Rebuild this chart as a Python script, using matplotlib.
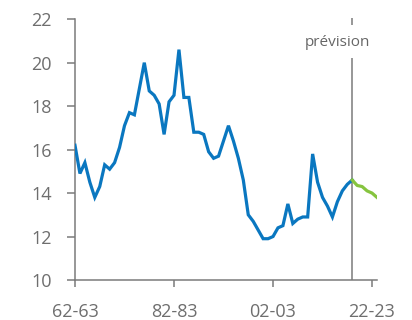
import matplotlib
matplotlib.use("Agg")
import matplotlib.pyplot as plt

# ── Data ──────────────────────────────────────────────────────────────────────
# one value per fiscal year, starting 1962-63
hist_values = [
    16.2, 14.9, 15.4, 14.5, 13.8, 14.3, 15.3, 15.1, 15.4, 16.1,
    17.1, 17.7, 17.6, 18.8, 20.0, 18.7, 18.5, 18.1, 16.7, 18.2,
    18.5, 20.6, 18.4, 18.4, 16.8, 16.8, 16.7, 15.9, 15.6, 15.7,
    16.4, 17.1, 16.4, 15.6, 14.6, 13.0, 12.7, 12.3, 11.9, 11.9,
    12.0, 12.4, 12.5, 13.5, 12.6, 12.8, 12.9, 12.9, 15.8, 14.5,
    13.8, 13.4, 12.9, 13.6, 14.1, 14.4, 14.6,
]
forecast_values = [14.6, 14.35, 14.3, 14.1, 14.0, 13.8]

tick_pos    = [0, 20, 40, 60]
tick_labels = ["62-63", "82-83", "02-03", "22-23"]
y_ticks     = [10, 12, 14, 16, 18, 20, 22]
forecast_label = "prévision"

BLUE  = "#0A77C0"
GREEN = "#86C43F"
GREY  = "#7A7A7A"

plt.rcParams["font.family"] = ["Open Sans", "DejaVu Sans"]

hist_x = list(range(len(hist_values)))
fc_start = len(hist_values) - 1
fc_x = list(range(fc_start, fc_start + len(forecast_values)))

fig = plt.figure(figsize=(4.12, 3.2), dpi=100)
ax = fig.add_axes([0.182, 0.125, 0.733, 0.815])

ax.plot(hist_x, hist_values, color=BLUE, lw=2.3, solid_joinstyle="miter", zorder=3)
ax.plot(fc_x, forecast_values, color=GREEN, lw=2.3, zorder=3)

# forecast divider, broken around its label
ax.vlines(fc_start, 10, 20.2, color=GREY, lw=1.1, zorder=2, clip_on=False)
ax.vlines(fc_start, 21.72, 22.05, color=GREY, lw=1.1, zorder=2, clip_on=False)
ax.text(fc_start - 2.9, 20.95, forecast_label, ha="center", va="center",
        fontsize=11, color="#666666")

ax.set_xlim(0, 61)
ax.set_ylim(10, 22)
ax.set_xticks(tick_pos)
ax.set_xticklabels(tick_labels)
ax.set_yticks(y_ticks)

for side in ("top", "right"):
    ax.spines[side].set_visible(False)
for side in ("left", "bottom"):
    ax.spines[side].set_color(GREY)
    ax.spines[side].set_linewidth(1.1)

ax.tick_params(axis="both", colors=GREY, labelcolor="#6E6E6E", labelsize=13,
               width=1.1)
ax.tick_params(axis="x", length=5, pad=11.5)
ax.tick_params(axis="y", length=6, pad=10.5)

fig.savefig("out.png", dpi=100)
